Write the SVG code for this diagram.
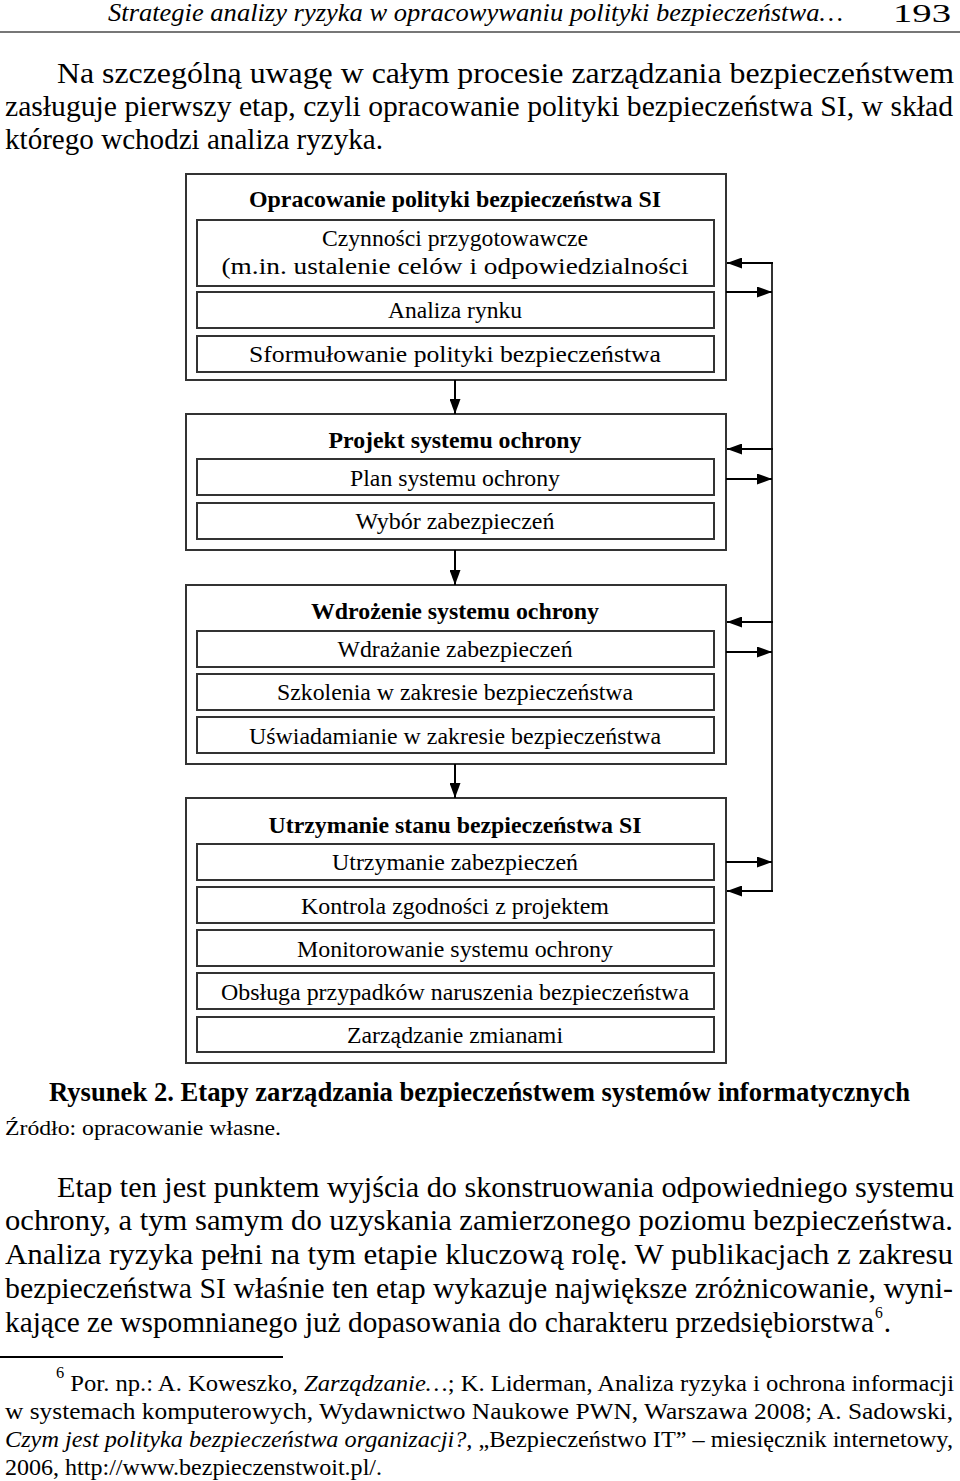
<svg xmlns="http://www.w3.org/2000/svg" width="960" height="1481" viewBox="0 0 960 1481">
<defs>
<marker id="ah" markerUnits="userSpaceOnUse" markerWidth="15" markerHeight="11" refX="15" refY="5.5" orient="auto">
<path d="M0,0 L15,5.5 L0,11 z" fill="#000"/>
</marker>
<style>
text{font-family:"Liberation Serif","Times New Roman",serif;fill:#000}
.hd{font-size:25px;font-style:italic}
.pg{font-size:26px}
.body{font-size:30px}
.dt{font-size:23px;text-anchor:middle}
.db{font-size:24px;font-weight:bold;text-anchor:middle}
.cap{font-size:27px;font-weight:bold}
.src{font-size:21px}
.fn{font-size:24px}
.it{font-style:italic}
.sup{font-size:16px}
.outer{fill:#fff;stroke:#333;stroke-width:2}
.inner{fill:#fff;stroke:#333;stroke-width:2}
.con{fill:none;stroke:#000;stroke-width:2}
.vline{fill:none;stroke:#333;stroke-width:2}
</style>
</defs>
<rect width="960" height="1481" fill="#fff"/>

<g id="header">
<text class="hd" x="108" y="21" textLength="735" lengthAdjust="spacingAndGlyphs">Strategie analizy ryzyka w opracowywaniu polityki bezpieczeństwa…</text>
<text class="pg" x="893" y="22" textLength="58" lengthAdjust="spacingAndGlyphs">193</text>
<line x1="0" y1="32" x2="960" y2="32" stroke="#777" stroke-width="2"/>
</g>

<g id="para1">
<text class="body" x="57" y="83" textLength="897" lengthAdjust="spacingAndGlyphs">Na szczególną uwagę w całym procesie zarządzania bezpieczeństwem</text>
<text class="body" x="5" y="116" textLength="948" lengthAdjust="spacingAndGlyphs">zasługuje pierwszy etap, czyli opracowanie polityki bezpieczeństwa SI, w skład</text>
<text class="body" x="5" y="149" textLength="378" lengthAdjust="spacingAndGlyphs">którego wchodzi analiza ryzyka.</text>
</g>

<g id="node1">
<rect class="outer" x="186" y="174" width="540" height="206"/>
<text class="db" x="455" y="207" textLength="412" lengthAdjust="spacingAndGlyphs">Opracowanie polityki bezpieczeństwa SI</text>
<rect class="inner" x="197" y="220" width="517" height="66"/>
<text class="dt" x="455" y="246" textLength="266" lengthAdjust="spacingAndGlyphs">Czynności przygotowawcze</text>
<text class="dt" x="455" y="274" textLength="467" lengthAdjust="spacingAndGlyphs">(m.in. ustalenie celów i odpowiedzialności</text>
<rect class="inner" x="197" y="292" width="517" height="36"/>
<text class="dt" x="455" y="318" textLength="134" lengthAdjust="spacingAndGlyphs">Analiza rynku</text>
<rect class="inner" x="197" y="336" width="517" height="36"/>
<text class="dt" x="455" y="362" textLength="412" lengthAdjust="spacingAndGlyphs">Sformułowanie polityki bezpieczeństwa</text>
</g>

<g id="node2">
<rect class="outer" x="186" y="414" width="540" height="136"/>
<text class="db" x="455" y="448" textLength="253" lengthAdjust="spacingAndGlyphs">Projekt systemu ochrony</text>
<rect class="inner" x="197" y="459" width="517" height="36"/>
<text class="dt" x="455" y="486" textLength="210" lengthAdjust="spacingAndGlyphs">Plan systemu ochrony</text>
<rect class="inner" x="197" y="503" width="517" height="36"/>
<text class="dt" x="455" y="529" textLength="199" lengthAdjust="spacingAndGlyphs">Wybór zabezpieczeń</text>
</g>

<g id="node3">
<rect class="outer" x="186" y="585" width="540" height="179"/>
<text class="db" x="455" y="619" textLength="288" lengthAdjust="spacingAndGlyphs">Wdrożenie systemu ochrony</text>
<rect class="inner" x="197" y="631" width="517" height="36"/>
<text class="dt" x="455" y="657" textLength="235" lengthAdjust="spacingAndGlyphs">Wdrażanie zabezpieczeń</text>
<rect class="inner" x="197" y="674" width="517" height="36"/>
<text class="dt" x="455" y="700" textLength="356" lengthAdjust="spacingAndGlyphs">Szkolenia w zakresie bezpieczeństwa</text>
<rect class="inner" x="197" y="717" width="517" height="36"/>
<text class="dt" x="455" y="744" textLength="412" lengthAdjust="spacingAndGlyphs">Uświadamianie w zakresie bezpieczeństwa</text>
</g>

<g id="node4">
<rect class="outer" x="186" y="798" width="540" height="265"/>
<text class="db" x="455" y="833" textLength="373" lengthAdjust="spacingAndGlyphs">Utrzymanie stanu bezpieczeństwa SI</text>
<rect class="inner" x="197" y="844" width="517" height="36"/>
<text class="dt" x="455" y="870" textLength="246" lengthAdjust="spacingAndGlyphs">Utrzymanie zabezpieczeń</text>
<rect class="inner" x="197" y="887" width="517" height="36"/>
<text class="dt" x="455" y="914" textLength="308" lengthAdjust="spacingAndGlyphs">Kontrola zgodności z projektem</text>
<rect class="inner" x="197" y="930" width="517" height="36"/>
<text class="dt" x="455" y="957" textLength="316" lengthAdjust="spacingAndGlyphs">Monitorowanie systemu ochrony</text>
<rect class="inner" x="197" y="973" width="517" height="36"/>
<text class="dt" x="455" y="1000" textLength="468" lengthAdjust="spacingAndGlyphs">Obsługa przypadków naruszenia bezpieczeństwa</text>
<rect class="inner" x="197" y="1017" width="517" height="35"/>
<text class="dt" x="455" y="1043" textLength="216" lengthAdjust="spacingAndGlyphs">Zarządzanie zmianami</text>
</g>

<g id="connectors">
<line class="con" x1="455" y1="380" x2="455" y2="414" marker-end="url(#ah)"/>
<line class="con" x1="455" y1="550" x2="455" y2="585" marker-end="url(#ah)"/>
<line class="con" x1="455" y1="764" x2="455" y2="798" marker-end="url(#ah)"/>
<line class="vline" x1="772" y1="262" x2="772" y2="892"/>
<line class="con" x1="773" y1="263" x2="727" y2="263" marker-end="url(#ah)"/>
<line class="con" x1="726" y1="292" x2="772" y2="292" marker-end="url(#ah)"/>
<line class="con" x1="773" y1="449" x2="727" y2="449" marker-end="url(#ah)"/>
<line class="con" x1="726" y1="479" x2="772" y2="479" marker-end="url(#ah)"/>
<line class="con" x1="773" y1="622" x2="727" y2="622" marker-end="url(#ah)"/>
<line class="con" x1="726" y1="652" x2="772" y2="652" marker-end="url(#ah)"/>
<line class="con" x1="726" y1="862" x2="772" y2="862" marker-end="url(#ah)"/>
<line class="con" x1="773" y1="891" x2="727" y2="891" marker-end="url(#ah)"/>
</g>

<g id="caption">
<text class="cap" x="49" y="1101" textLength="861" lengthAdjust="spacingAndGlyphs">Rysunek 2. Etapy zarządzania bezpieczeństwem systemów informatycznych</text>
<text class="src" x="5" y="1135" textLength="276" lengthAdjust="spacingAndGlyphs">Źródło: opracowanie własne.</text>
</g>

<g id="para2">
<text class="body" x="57" y="1197" textLength="897" lengthAdjust="spacingAndGlyphs">Etap ten jest punktem wyjścia do skonstruowania odpowiedniego systemu</text>
<text class="body" x="5" y="1230" textLength="948" lengthAdjust="spacingAndGlyphs">ochrony, a tym samym do uzyskania zamierzonego poziomu bezpieczeństwa.</text>
<text class="body" x="5" y="1264" textLength="948" lengthAdjust="spacingAndGlyphs">Analiza ryzyka pełni na tym etapie kluczową rolę. W publikacjach z zakresu</text>
<text class="body" x="5" y="1298" textLength="948" lengthAdjust="spacingAndGlyphs">bezpieczeństwa SI właśnie ten etap wykazuje największe zróżnicowanie, wyni-</text>
<text class="body" x="5" y="1332" textLength="886" lengthAdjust="spacingAndGlyphs">kające ze wspomnianego już dopasowania do charakteru przedsiębiorstwa<tspan class="sup" dy="-14" dx="1">6</tspan><tspan dy="14" dx="1">.</tspan></text>
</g>

<g id="footnote">
<line x1="0" y1="1357" x2="283" y2="1357" stroke="#000" stroke-width="2"/>
<text class="fn" x="56" y="1391" textLength="898" lengthAdjust="spacingAndGlyphs"><tspan class="sup" dy="-13">6</tspan><tspan dy="13"> Por. np.: A. Koweszko, </tspan><tspan class="it">Zarządzanie…</tspan>; K. Liderman, Analiza ryzyka i ochrona informacji</text>
<text class="fn" x="5" y="1419" textLength="948" lengthAdjust="spacingAndGlyphs">w systemach komputerowych, Wydawnictwo Naukowe PWN, Warszawa 2008; A. Sadowski,</text>
<text class="fn" x="5" y="1447" textLength="948" lengthAdjust="spacingAndGlyphs"><tspan class="it">Czym jest polityka bezpieczeństwa organizacji?,</tspan> „Bezpieczeństwo IT” – miesięcznik internetowy,</text>
<text class="fn" x="5" y="1475" textLength="377" lengthAdjust="spacingAndGlyphs">2006, http://www.bezpieczenstwoit.pl/.</text>
</g>
</svg>
